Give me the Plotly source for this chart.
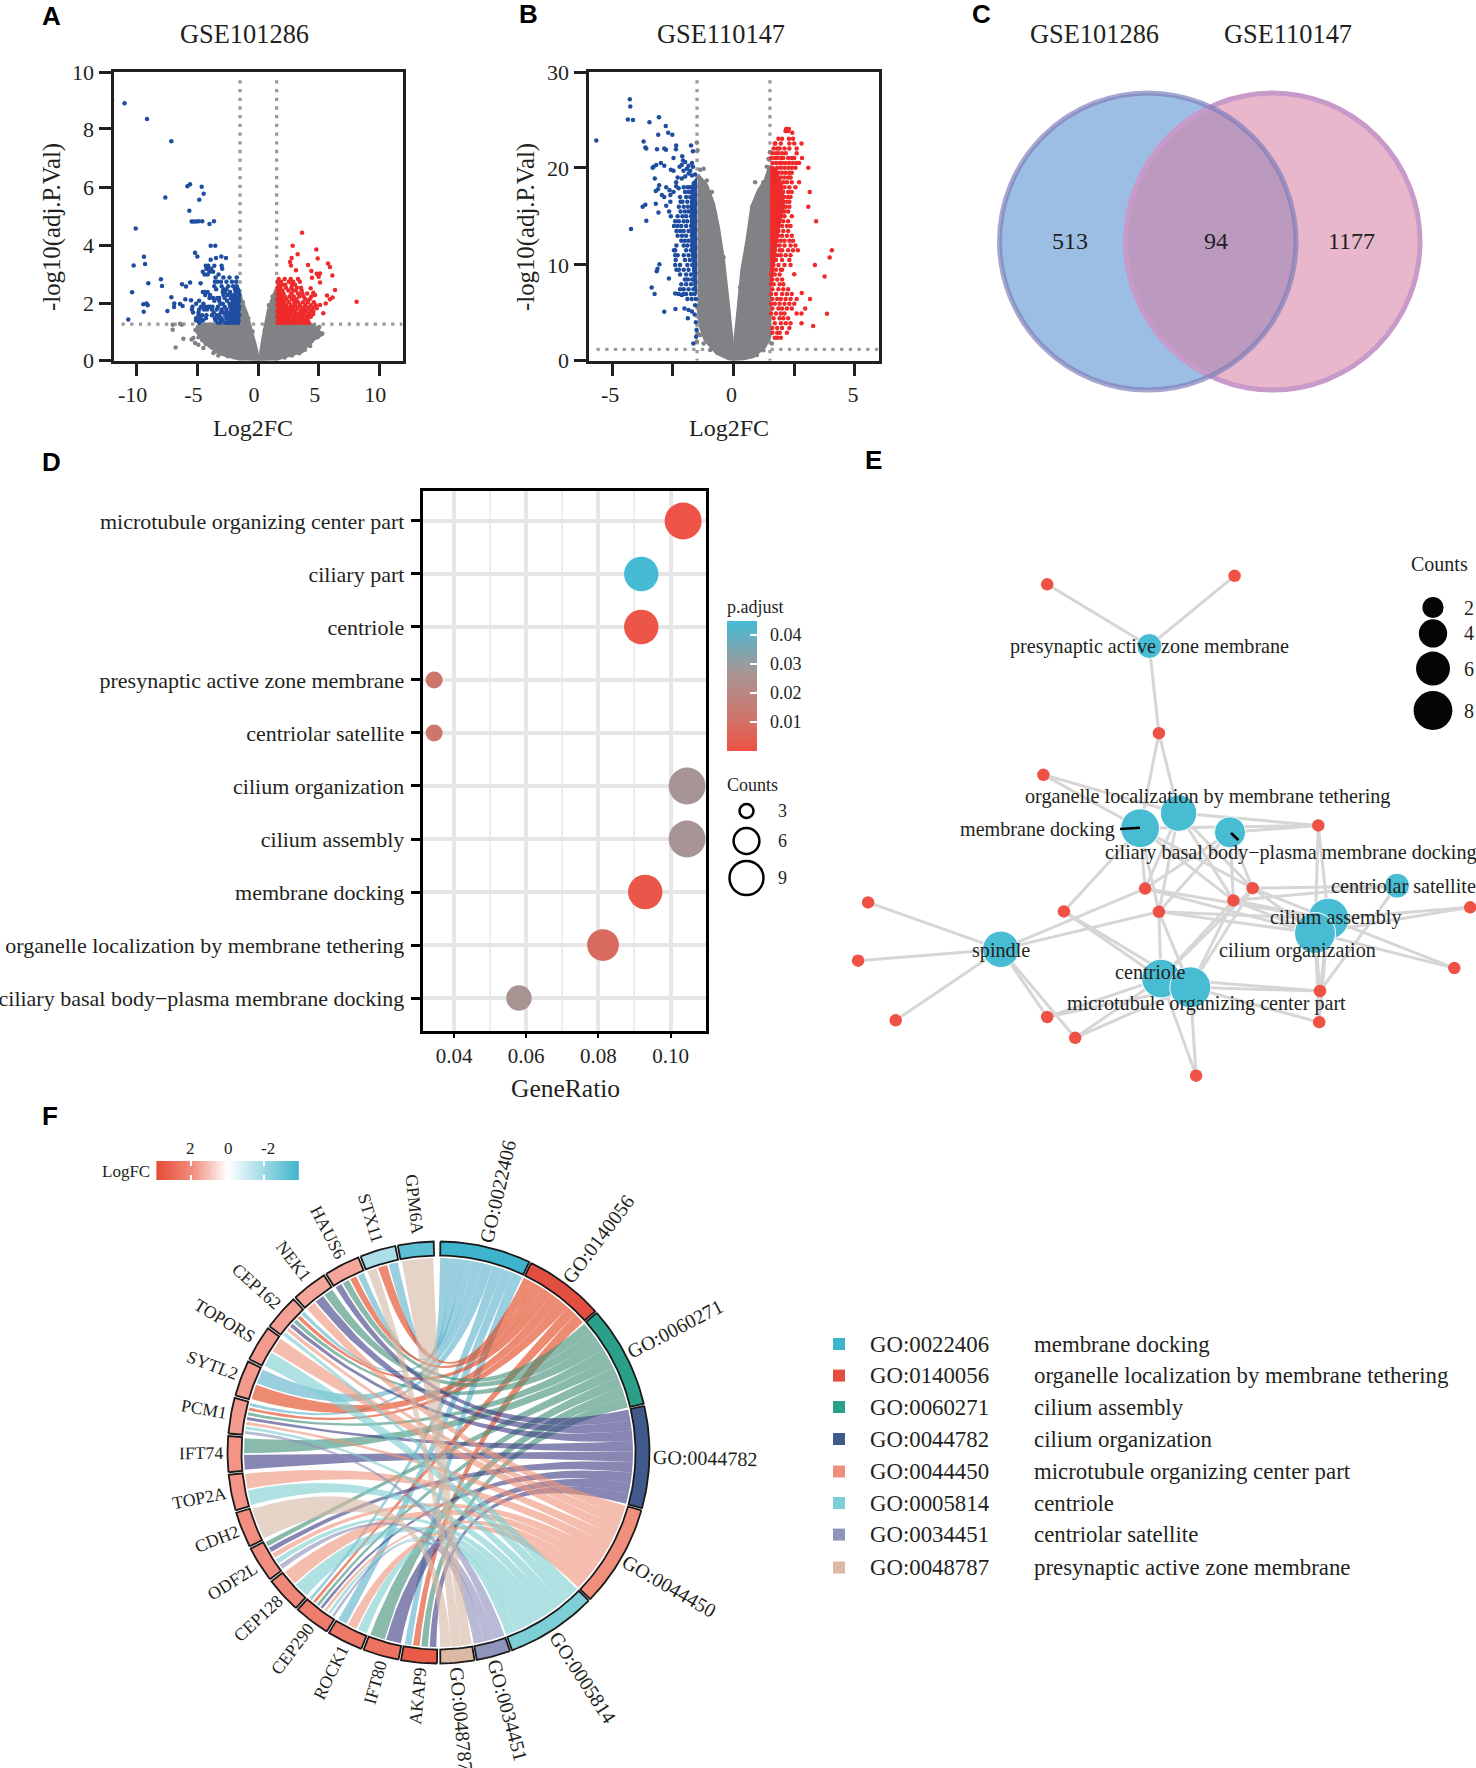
import math
import plotly.graph_objects as go

W, H = 1476, 1768
SERIF = "Liberation Serif"
SANS = "Liberation Sans"
INK = "#231F20"

# ---------- Panel A values ----------
a_blue_pts = [(-12.03,9.02),(-11.0,8.88),(-9.15,8.34),(-7.14,7.58),(-5.82,6.03),(-5.6,6.1),(-4.64,6.02),(-4.48,5.78),(-4.84,5.57),(-7.64,5.65),
 (-5.66,5.19),(-5.47,4.82),(-5.3,4.82),(-5.1,4.82),(-4.9,4.83),(-4.6,4.83),(-4.0,4.74),(-3.63,4.83),(-10.08,4.58),(-3.9,3.99),(-3.52,3.99),
 (-5.19,3.75),(-5.0,3.62),(-9.4,3.61),(-9.31,3.36),(-10.25,3.31),(-3.9,3.51),(-3.46,3.57),(-3.02,3.62),(-2.64,3.57),
 (-9.04,2.7),(-10.38,2.39),(-9.45,1.98),(-9.18,2.01),(-9.09,1.95),(-9.42,1.72),(-10.69,1.46),(-8.0,2.84),(-7.91,2.61),(-7.14,2.22),(-7.47,1.75),
 (-6.9,2.01),(-6.92,1.89),(-6.26,2.67),(-5.93,2.59),(-5.6,2.73),(-6.43,1.99),(-6.21,1.92),(-5.99,2.15),(-5.52,2.12),(-4.73,2.7)]
a_blue_rows = {3.3:[-4.3,-4.1,-3.6,-3.0],3.2:[-4.25,-4.15,-3.85,-2.95],3.1:[-4.55,-4.0,-3.7],3.0:[-4.4,-4.15,-3.25],
 2.9:[-3.5,-2.85,-2.35,-1.75],2.75:[-3.55,-3.35,-3.05,-2.6,-2.15,-1.8],2.6:[-3.6,-3.0,-2.45,-2.05,-1.75],2.5:[-3.45,-2.85,-2.6,-1.9,-1.65],
 2.4:[-4.55,-4.4,-4.15,-2.9,-2.7,-2.3,-1.85,-1.6],2.3:[-4.35,-3.95,-2.85,-2.5,-2.2,-1.9,-1.55],2.2:[-4.0,-3.7,-3.35,-3.2,-2.75,-2.25,-2.05,-1.8,-1.6],
 2.1:[-4.85,-3.6,-3.2,-2.55,-2.1,-1.9,-1.7,-1.55],2.0:[-5.1,-4.5,-3.1,-2.9,-2.35,-2.1,-1.85,-1.65],
 1.9:[-5.4,-4.7,-4.35,-4.1,-3.95,-3.75,-3.3,-2.75,-2.3,-2.05,-1.9,-1.7,-1.55],1.8:[-5.45,-4.85,-4.45,-4.2,-3.8,-3.4,-3.0,-2.6,-2.2,-2.0,-1.8,-1.6],
 1.7:[-5.35,-4.9,-3.65,-3.05,-2.85,-2.55,-2.3,-2.05,-1.85,-1.65],1.6:[-4.9,-4.6,-4.25,-3.8,-3.4,-3.2,-2.7,-2.4,-2.15,-1.95,-1.75,-1.55],
 1.5:[-5.1,-4.75,-4.3,-3.55,-3.2,-3.0,-2.6,-2.3,-2.1,-1.85,-1.7],1.42:[-5.1,-4.85,-4.55,-3.5,-3.05,-2.9,-2.45,-2.2,-2.0,-1.75,-1.6],
 1.35:[-4.85,-3.3,-3.1,-2.7,-2.5,-2.3,-2.05,-1.9,-1.65]}
a_red_pts = [(3.63,4.44),(2.86,3.99),(4.81,3.86),(3.27,3.7),(4.92,3.55),(2.77,3.57),(2.64,3.43),(2.72,3.31),(4.12,3.33),(5.77,3.38),(5.93,3.26),
 (4.4,3.12),(4.84,3.03),(5.11,3.04),(5.0,2.93),(6.13,2.97),(3.13,3.15),(4.45,2.89),(5.11,2.73),(6.35,2.47),(8.13,2.07),(5.69,2.28),(6.15,2.21),
 (5.93,2.15),(5.58,2.01),(5.38,1.67),(4.56,2.38),(4.34,2.53),(4.7,2.3),(5.11,1.96),(4.84,1.84),(4.56,1.73)]
a_red_rows = {2.85:[1.7,2.2,2.7,3.3],2.75:[1.65,1.9,2.55,2.9,3.45],2.65:[1.7,2.0,2.25,2.8,3.05],2.55:[1.6,1.85,2.3,2.75,3.2,3.55],
 2.45:[1.7,2.0,2.5,2.9,3.1,3.6],2.35:[1.6,1.8,2.1,2.75,3.3,3.65,4.05],2.25:[1.7,1.9,2.2,2.6,2.95,3.4,3.75,4.4],2.15:[1.6,1.8,2.0,2.35,2.8,3.15,3.9,4.25],
 2.05:[1.7,1.9,2.15,2.55,3.0,3.3,3.7,4.1,4.6],1.95:[1.6,1.8,2.0,2.3,2.7,3.05,3.45,3.9,4.35,4.75],1.85:[1.7,1.85,2.1,2.4,2.6,2.9,3.25,3.6,3.8,4.15,4.5],
 1.75:[1.6,1.8,2.0,2.25,2.55,2.8,3.1,3.5,3.75,4.0,4.35],1.65:[1.7,1.9,2.1,2.35,2.65,3.0,3.3,3.6,3.85,4.2,4.55],1.55:[1.6,1.8,2.0,2.2,2.45,2.75,3.05,3.4,3.7,4.05,4.35],
 1.45:[1.7,1.85,2.05,2.3,2.55,2.9,3.2,3.55,3.8,4.1],1.35:[1.6,1.75,1.95,2.15,2.4,2.65,2.85,3.1,3.35,3.65,3.95,4.2]}
a_grey_pts = [(-7.03,1.28),(-7.03,1.11),(-6.43,1.31),(-6.29,1.28),(-6.79,0.5),(-6.15,0.8),(-5.47,0.77),(-5.19,0.65),(-4.92,0.59),(-5.33,0.82),(-4.78,0.99),
 (5.11,0.99),(4.7,1.16),(4.42,0.71),(3.87,0.42),(4.84,0.99),(4.29,1.28),(3.6,0.37),(-3.68,0.31),(-4.5,0.48),(-3.27,0.22),(-5.0,1.15),(-4.9,0.85),(4.95,1.1),(4.1,0.6),
 (-4.3,0.62),(-4.6,0.75),(-3.9,0.55),(-3.5,0.36),(-3.0,0.3),(-2.5,0.2),(-2.0,0.16),(-4.95,1.2),(-5.15,1.1),(-4.7,0.9),
 (4.5,0.85),(4.9,0.85),(4.3,0.55),(3.8,0.5),(3.4,0.3),(2.8,0.22),(2.2,0.15),(5.3,0.98),(5.05,1.2),(4.6,1.25),
 (-1.25,2.05),(-0.8,1.5),(-0.45,1.05),(0.55,1.1),(0.9,1.95),(1.2,2.25)]
a_grey_outline_x = [-1.55,-1.35,-0.93,-0.6,-0.33,-0.11,0.03,-1.48,-2.86,-3.82,-4.5,-5.05,-4.78,-1.55,None,
 0.03,0.16,0.38,0.66,0.85,1.13,1.46,1.55,1.55,4.29,4.84,5.25,4.56,4.0,3.19,1.54,0.03]
a_grey_outline_y = [2.45,2.13,1.67,1.21,0.75,0.41,0.02,0.09,0.24,0.47,0.7,1.04,1.3,1.3,None,
 0.02,0.18,0.76,1.33,1.78,2.13,2.47,2.47,1.3,1.3,1.16,0.93,0.76,0.53,0.3,0.09,0.02]
a_blue_core_x = [-1.5,-2.2,-2.0,-1.5]
a_blue_core_y = [1.32,1.32,1.8,2.3]
a_red_core_x = [1.55,2.4,2.2,1.55]
a_red_core_y = [1.32,1.32,1.9,2.2]
a_cut_x, a_cut_y = [-1.48,1.54], 1.3
a_ticks = [-10,-5,0,5,10]
a_ticktext = ["-10","-5","0","5","10"]

# ---------- Panel B values ----------
b_blue_pts = [(-5.65,22.8),(-4.27,27.05),(-4.25,26.3),(-4.35,24.97),(-4.14,24.93),(-3.46,24.7),(-3.07,25.2),(-2.79,24.3),(-3.1,23.4),(-2.69,23.6),(-2.52,23.4),
 (-3.7,22.7),(-3.63,22.1),(-3.59,22.0),(-3.15,21.9),(-2.85,22.0),(-2.78,21.85),(-2.36,22.3),(-2.37,21.9),(-1.75,22.3),(-1.67,21.7),(-2.47,21.0),(-2.11,21.2),
 (-3.33,20.0),(-3.29,20.1),(-3.18,20.3),(-2.99,20.5),(-2.85,20.2),(-2.58,19.8),(-2.47,19.7),(-2.22,20.1),(-2.13,20.3),(-2.08,20.75),(-1.99,20.6),
 (-1.85,20.2),(-1.71,20.5),(-1.67,20.1),(-1.78,19.7),(-1.92,19.9),(-2.06,19.7),(-3.24,18.9),(-2.3,19.0),(-2.36,18.5),(-2.13,18.9),(-1.99,19.1),(-1.85,19.4),(-1.71,19.2),(-1.58,19.3),
 (-3.06,18.2),(-3.11,17.8),(-3.2,17.6),(-2.77,18.0),(-2.63,17.7),(-2.47,17.5),(-2.36,18.1),(-2.26,17.9),(-2.95,17.2),(-2.85,17.0),(-2.6,17.2),(-3.2,16.3),(-2.77,16.1),(-2.6,16.5),
 (-3.74,16.0),(-3.63,16.2),(-3.09,15.4),(-2.65,15.5),(-2.58,15.0),(-3.59,14.55),(-4.22,13.7),(-3.05,10.07),(-3.13,9.6),(-3.16,9.35),(-2.66,8.6),(-3.37,7.67),(-3.25,7.0),
 (-2.85,5.17),(-2.39,5.45),(-2.4,7.05),(-2.26,7.0),(-2.13,6.9),(-2.02,5.5),(-1.85,5.35),(-1.88,4.5),(-1.71,5.2),(-1.58,5.85),(-1.65,1.9),(-1.54,2.6),(-1.6,4.9),(-1.55,4.1),(-1.52,3.3)]
b_blue_rows = {18:[-2.05,-1.9,-1.8,-1.7,-1.6],17.5:[-2.0,-1.85,-1.75,-1.62],17:[-2.2,-1.95,-1.78,-1.65],16.5:[-2.18,-2.1,-1.9,-1.7,-1.58],16:[-2.25,-2.05,-1.88,-1.72],
 15.5:[-2.18,-2.0,-1.85,-1.68],15:[-2.3,-2.1,-1.95,-1.75],14.5:[-2.4,-2.25,-2.05,-1.9,-1.7],14:[-2.45,-2.3,-2.15,-1.95,-1.75],13.5:[-2.35,-2.2,-2.05,-1.85],
 13:[-2.3,-2.12,-1.95,-1.72],12.5:[-2.15,-2.0,-1.85,-1.7],12:[-2.35,-2.05,-1.9,-1.72],11.5:[-2.45,-2.4,-1.95,-1.75],11:[-2.4,-2.3,-2.05,-1.85,-1.68],
 10.5:[-2.38,-2.0,-1.8],10:[-2.4,-2.2,-1.9,-1.7],9.5:[-2.35,-2.25,-2.05,-1.85,-1.62],9:[-2.2,-1.95,-1.75],8.5:[-2.0,-1.88,-1.7,-1.6],8:[-2.15,-1.95,-1.75],
 7.5:[-2.2,-2.05,-1.85,-1.65],7:[-2.05,-1.95,-1.75,-1.6],6.5:[-1.9,-1.72,-1.55]}
b_red_pts = [(3.14,17.5),(3.08,16.0),(3.4,14.5),(4.05,11.5),(3.96,10.75),(3.35,10.0),(2.5,9.05),(3.75,8.8),(2.81,7.1),(3.15,6.5),(2.95,5.5),(3.85,4.97),(3.28,3.7),(3.08,20.0),(2.82,21.0),(2.8,22.5),(2.42,23.6)]
b_red_rows = {24:[2.17,2.22,2.28],23.8:[2.14,2.2,2.25],23:[1.85,2.0,2.28,2.45],22.5:[1.7,1.72,1.95,2.3,2.5],22:[1.65,1.8,1.9,2.1,2.3,2.6],21.5:[1.6,1.75,1.85,2.0,2.15,2.6],
 21:[1.55,1.7,1.8,1.95,2.05,2.25,2.4,2.5],20.5:[1.6,1.75,1.9,2.0,2.15,2.3,2.45,2.6,2.7],20:[1.6,1.8,1.95,2.1,2.25,2.4,2.55],19.5:[1.7,1.85,2.0,2.15,2.3,2.4],
 19:[1.8,1.95,2.1,2.25,2.35],18.5:[1.8,2.05,2.2,2.4,2.7],18:[1.9,2.1,2.3,2.55],17.5:[2.05,2.25,2.4],17:[2.1,2.25,2.35],16.5:[2.05,2.2,2.3],16:[2.0,2.15,2.3],
 15.5:[2.0,2.1,2.25],15:[1.95,2.1,2.4],14.5:[1.9,2.05,2.25],14:[1.85,2.0,2.2,2.35],13.5:[1.85,2.05,2.25],13:[1.85,2.0,2.2,2.4],12.5:[1.8,1.95,2.1,2.3,2.45],
 12:[1.75,1.9,2.1,2.35,2.55],11.5:[1.7,1.9,2.0,2.25,2.45,2.65],11:[1.65,1.8,1.95,2.15,2.35],10.5:[1.6,1.75,2.0,2.3],10:[1.65,1.85,2.1,2.35],9.5:[1.6,1.75,1.95,2.0],
 9:[1.55,1.7,1.9],8.5:[1.6,1.8,2.0],8:[1.55,1.65,1.9,2.05],7.5:[1.6,1.85,2.05,2.25],7:[1.55,1.75,2.0,2.2,2.4],6.5:[1.6,1.8,1.95,2.15,2.35,2.6],6:[1.55,1.7,1.9,2.1,2.3,2.5],
 5.5:[1.6,1.85,2.0,2.2,2.4],5:[1.55,1.75,1.95,2.1,2.6,2.8],4.5:[1.65,1.9,2.05,2.25],4:[1.7,1.95,2.15,2.35,2.8],3.5:[1.6,1.8,2.0,2.3],3:[1.6,1.8,1.9,2.2],2.5:[1.7,1.8,1.95]}
b_grey_pts = [(-1.23,19.9),(-1.37,19.8),(-1.51,22.6),(-1.48,21.8),(0.89,18.5),(1.23,18.5),(1.37,20.1),(1.44,20.9),(1.5,21.6),(-1.51,2.1),(-1.48,2.95),(-1.37,2.77),(-1.23,1.9),
 (1.23,1.2),(1.44,2.26),(1.58,1.9),(-0.96,15.6),(-0.8,15.6),(-0.62,12.9),(-0.41,10.8),(0.66,12.9),(0.41,9.45),(0.78,16.0),(0.96,17.0),(-1.37,18.7),(-1.1,18.7),(-0.89,17.5),(-0.3,6.0),(0.27,7.7),(-0.96,1.23),(0.96,0.72)]
b_grey_outline_x = [-1.48,-1.44,-1.1,-0.82,-0.62,-0.41,-0.21,-0.07,0.0,-0.69,-1.17,-1.37,-1.48,None,
 0.0,0.07,0.21,0.34,0.55,0.75,1.03,1.3,1.48,1.5,1.5,1.3,0.82,0.0]
b_grey_outline_y = [19.2,19.2,18.2,16.3,13.9,10.5,6.0,2.6,0.1,0.89,2.26,3.63,6.0,None,
 0.1,2.6,6.0,9.45,12.5,16.0,17.7,18.7,20.1,20.1,2.6,1.6,0.55,0.1]
b_blue_core_x = [-1.5,-1.7,-1.78,-1.75,-1.62,-1.5]
b_blue_core_y = [19.0,18.5,16.0,12.0,7.5,7.0]
b_red_core_x = [1.5,1.75,2.0,2.1,1.9,1.8,1.68,1.6,1.5]
b_red_core_y = [20.0,20.0,18.3,16.0,14.0,12.5,10.0,8.5,8.0]
b_cut_x, b_cut_y = [-1.5,1.5], 1.3

# ---------- Panel C values ----------
venn_sets = ["GSE101286","GSE110147"]
venn_counts = ["513","94","1177"]

# ---------- Panel D values ----------
d_terms = ["microtubule organizing center part","ciliary part","centriole","presynaptic active zone membrane","centriolar satellite",
 "cilium organization","cilium assembly","membrane docking","organelle localization by membrane tethering","ciliary basal body\u2212plasma membrane docking"]
d_ratio = [0.1035,0.0919,0.0919,0.0345,0.0345,0.1046,0.1046,0.0930,0.0813,0.058]
d_padj = [0.0008,0.0448,0.0012,0.012,0.012,0.027,0.027,0.002,0.008,0.026]
d_count = [9,8,8,3,3,9,9,8,7,5]
d_legend_counts = [3,6,9]

# ---------- Panel E values ----------
gene_nodes = {"a":(1047.2,584.3),"b":(1234.6,575.8),"c":(1158.9,733.2),"d":(1043.4,774.8),"e":(1318.3,825.4),"f":(1145.1,888.6),"g":(1252.6,888.2),
 "h":(1233.4,900.4),"i":(1158.9,911.8),"j":(1063.9,911.4),"k":(868.1,902.4),"l":(858.1,960.7),"m":(895.7,1020.3),"n":(1047.2,1017.0),"o":(1075.2,1037.8),
 "p":(1196.1,1075.7),"q":(1320.0,991.0),"r":(1319.2,1022.2),"s":(1454.3,968.1),"t":(1470.2,907.3)}
term_nodes = {"presynaptic active zone membrane":(1149.3,646.0,"abc"),
 "organelle localization by membrane tethering":(1178.6,813.1,"cdefigh"),
 "membrane docking":(1140.1,828.2,"cdefighj"),
 "ciliary basal body\u2212plasma membrane docking":(1230.0,832.3,"efigh"),
 "centriolar satellite":(1397.0,885.7,"ghq"),
 "cilium assembly":(1328.4,918.7,"efghiqrst"),
 "cilium organization":(1315.0,933.0,"efghiqrst"),
 "spindle":(1000.8,949.3,"klmnofi"),
 "centriole":(1161.0,978.6,"ingoqphj"),
 "microtubule organizing center part":(1190.3,987.3,"ringoqphj")}
term_labels = {"presynaptic active zone membrane":(1149,646),"organelle localization by membrane tethering":(1207,797),"membrane docking":(1037,829.5),
 "ciliary basal body\u2212plasma membrane docking":(1290.7,852),"centriolar satellite":(1403.7,885.5),"cilium assembly":(1335.5,917.5),"cilium organization":(1297.4,950.5),
 "spindle":(1000.8,950.5),"centriole":(1150.5,971.5),"microtubule organizing center part":(1206.6,1003.5)}
leader_x = [1120,1140,None,1231,1238.4]
leader_y = [829,827.7,None,833,840]
e_legend_counts = [2,4,6,8]

# ---------- Panel F values ----------
go_ids = ["GO:0022406","GO:0140056","GO:0060271","GO:0044782","GO:0044450","GO:0005814","GO:0034451","GO:0048787"]
go_names = ["membrane docking","organelle localization by membrane tethering","cilium assembly","cilium organization",
 "microtubule organizing center part","centriole","centriolar satellite","presynaptic active zone membrane"]
go_colors = ["#3EB3CC","#E24E3F","#29A087","#415A8C","#F08F7B","#7CCFD6","#8F94BB","#DCB9A5"]
go_ribbons = ["#5CB2CB","#E0421B","#428F79","#3F3E85","#ED947A","#7ECDD0","#8B8EBB","#D6B8A5"]
genes = ["AKAP9","IFT80","ROCK1","CEP290","CEP128","ODF2L","CDH2","TOP2A","IFT74","PCM1","SYTL2","TOPORS","CEP162","NEK1","HAUS6","STX11","GPM6A"]
gene_logfc = [3.4,2.7,2.5,2.4,2.1,1.9,1.9,1.8,1.8,1.7,1.7,1.7,1.6,1.5,1.5,-1.7,-3.3]
gene_go = [[3,2,1,0],[3,2],[5,4,0],[6,5,4,3,2,1,0],[5,4],[6,5,4,3,2],[7],[5,4],[3,2],[6,5,4,3,2,1,0],[1,0],[5,4],[5,4,3,2,1,0],[4,3,2],[3,2,1,0],[7,1,0],[7]]
logfc_ticks = [2,0,-2]
logfc_stops = [(-3.88,(63,180,204)),(0,(255,255,255)),(1.94,(242,140,126)),(3.88,(230,75,53))]

# ---------- helpers ----------
def dx(a,b): return [a/W,b/W]
def dy(a,b): return [1-b/H,1-a/H]
def expand(pts, rows):
    xs=[p[0] for p in pts]; ys=[p[1] for p in pts]
    for y,row in rows.items():
        xs+=row; ys+=[y]*len(row)
    return xs,ys
def size_of(c, base2, slope): return math.sqrt(base2+(c-3)*slope)
def lfc_color(v):
    s=logfc_stops
    v=max(s[0][0],min(s[-1][0],v))
    for (a,ca),(b,cb) in zip(s,s[1:]):
        if a<=v<=b:
            t=(v-a)/(b-a)
            return "rgb(%d,%d,%d)"%tuple(round(ca[i]+(cb[i]-ca[i])*t) for i in range(3))
def rgba(h,al):
    return "rgba(%d,%d,%d,%.2f)"%(int(h[1:3],16),int(h[3:5],16),int(h[5:7],16),al)
CW={":":.278,"G":.722,"O":.722,"P":.556,"M":.889,"A":.722,"C":.667,"K":.722,"I":.333,"F":.556,"T":.611,"R":.667,"E":.611,"H":.722,"D":.722,"L":.611,"N":.722,"S":.556,"U":.722,"X":.722,"Y":.722,"B":.667}
def tw(s,size): return sum(CW.get(c,.5) for c in s)*size

annots=[]
def txt(x,y,t,size=21,xa="center",ang=0,fam=SERIF,color=INK):
    annots.append(dict(x=x/W,y=1-y/H,xref="paper",yref="paper",text=t,showarrow=False,xanchor=xa,yanchor="middle",
                       textangle=ang,font=dict(family=fam,size=size,color=color)))

fig=go.Figure()
hid=dict(visible=False,showgrid=False,zeroline=False)
def sc(xs,ys,ax,**k):
    fig.add_trace(go.Scatter(x=xs,y=ys,xaxis="x"+ax,yaxis="y"+ax,hoverinfo="skip",showlegend=False,**k))

GREY,BLUE,RED="#808285","#1F4EA1","#EE2A2B"
def volcano(ax,cut_x,cut_y,xr,top,ox,oy,gp,bp,br,rp,rr,bcx,bcy,rcx,rcy,ms):
    dash=dict(color="#9B9B9B",width=3.3,dash="3.3px,5.4px")
    sc([xr[0]*0.945,xr[1]],[cut_y,cut_y],ax,mode="lines",line=dash)
    for c in cut_x:
        sc([c,c],[0,top*0.975],ax,mode="lines",line=dash)
    sc(ox,oy,ax,mode="lines",fill="toself",fillcolor=GREY,line=dict(color=GREY,width=3))
    sc([p[0] for p in gp],[p[1] for p in gp],ax,mode="markers",marker=dict(color=GREY,size=ms))
    sc(bcx,bcy,ax,mode="lines",fill="toself",fillcolor=BLUE,line=dict(color=BLUE,width=1))
    sc(rcx,rcy,ax,mode="lines",fill="toself",fillcolor=RED,line=dict(color=RED,width=1))
    x,y=expand(bp,br); sc(x,y,ax,mode="markers",marker=dict(color=BLUE,size=ms))
    x,y=expand(rp,rr); sc(x,y,ax,mode="markers",marker=dict(color=RED,size=ms))

volcano("",a_cut_x,a_cut_y,[-11.91,11.91],10,a_grey_outline_x,a_grey_outline_y,a_grey_pts,a_blue_pts,a_blue_rows,a_red_pts,a_red_rows,a_blue_core_x,a_blue_core_y,a_red_core_x,a_red_core_y,4.5)
volcano("2",b_cut_x,b_cut_y,[-5.97,5.97],30,b_grey_outline_x,b_grey_outline_y,b_grey_pts,b_blue_pts,b_blue_rows,b_red_pts,b_red_rows,b_blue_core_x,b_blue_core_y,b_red_core_x,b_red_core_y,4.5)

# Panel D
d_scale=[[0,"#EF5144"],[0.25,"#CF746A"],[0.6,"#A89595"],[1,"#45BCD4"]]
fig.add_trace(go.Scatter(x=d_ratio,y=d_terms,xaxis="x4",yaxis="y4",mode="markers",hoverinfo="skip",showlegend=False,
    marker=dict(size=[size_of(c,289,180) for c in d_count],opacity=1,color=d_padj,cmin=0,cmax=0.0448,colorscale=d_scale,line=dict(width=0),
        colorbar=dict(x=727/W,xanchor="left",y=1-686/H,yanchor="middle",thickness=30,thicknessmode="pixels",len=130,lenmode="pixels",xpad=0,ypad=0,
            outlinewidth=0,tickmode="array",tickvals=[0.01,0.02,0.03,0.04],ticks="inside",ticklen=7,tickwidth=1.5,tickcolor="white",showticklabels=False))))
txt(725,607,"p.adjust",18,"left")
for v,y in zip(["0.04","0.03","0.02","0.01"],[635,664,693,722]): txt(768,y,v,18,"left")
txt(725,785,"Counts",18,"left")
for c,y in zip(d_legend_counts,[811,841,878]):
    sc([746.5],[y],"3",mode="markers",marker=dict(size=size_of(c,289,180)-3,opacity=1,color="white",line=dict(color="black",width=2.5)))
    txt(782,y,str(c),18)

# Panel C (drawn on page axes)
venn_shapes=[dict(type="circle",xref="x3",yref="y3",x0=999.5,x1=1296,y0=93,y1=390,fillcolor="#9CBDE4",line=dict(width=0),layer="below"),
 dict(type="circle",xref="x3",yref="y3",x0=1125.5,x1=1420,y0=93,y1=390,fillcolor="rgba(214,126,162,0.556)",line=dict(color="#C79AC9",width=5),layer="below"),
 dict(type="circle",xref="x3",yref="y3",x0=999.5,x1=1296,y0=93,y1=390,fillcolor="rgba(0,0,0,0)",line=dict(color="rgba(125,125,185,0.68)",width=5),layer="below")]
for s,x in zip(venn_sets,[1094,1288]): txt(x,34,s,26.4)
for s,x in zip(venn_counts,[1069.5,1216,1351]): txt(x,241,s,24)

# Panel E
ex,ey=[],[]
for t,(x,y,gs) in term_nodes.items():
    for g in gs:
        ex+=[x,gene_nodes[g][0],None]; ey+=[y,gene_nodes[g][1],None]
sc(ex,ey,"3",mode="lines",line=dict(color="#D8D5D6",width=3))
sc([p[0] for p in gene_nodes.values()],[p[1] for p in gene_nodes.values()],"3",mode="markers",marker=dict(color="#EF5144",size=12.5))
t_size={"presynaptic active zone membrane":3,"organelle localization by membrane tethering":7,"membrane docking":8,"ciliary basal body\u2212plasma membrane docking":5,
 "centriolar satellite":3,"cilium assembly":9,"cilium organization":9,"spindle":7,"centriole":8,"microtubule organizing center part":9}
sc([v[0] for v in term_nodes.values()],[v[1] for v in term_nodes.values()],"3",mode="markers",
   marker=dict(color="#47BCD3",opacity=1,size=[size_of(t_size[k],625,176) for k in term_nodes]))
sc(leader_x,leader_y,"3",mode="lines",line=dict(color="black",width=2.6))
for k,(x,y) in term_labels.items(): txt(x,y,k,20.15)
txt(1439,564,"Counts",20)
for c,y in zip(e_legend_counts,[607.5,633.4,668.6,710.5]):
    sc([1433],[y],"3",mode="markers",marker=dict(size=size_of(c,625,176),color="#050505"))
    txt(1469,y,str(c),20)

# Panel F chord
R_OUT,R_IN,R_RIB=211,197,194.5
def pt(r,a):
    th=math.radians(a); return r*math.sin(th),r*math.cos(th)
n_links=[sum(g in m for m in gene_go) for g in range(8)]
GO_GAP=0.6
unit=(179-GO_GAP*7)/sum(n_links)
go_start=[];cur=0.5
for n in n_links:
    go_start.append(cur); cur+=n*unit+GO_GAP
G_STEP=(359.4-180.4)/len(genes); G_W=G_STEP-0.7
gene_start=[180.4+i*G_STEP for i in range(len(genes))]

def ring(a0,a1,col):
    st=max(2,int((a1-a0)/1.5)+1)
    o=[pt(R_OUT,a0+(a1-a0)*i/st) for i in range(st+1)]
    n=[pt(R_IN,a1-(a1-a0)*i/st) for i in range(st+1)]
    p=o+n+[o[0]]
    sc([q[0] for q in p],[q[1] for q in p],"5",mode="lines",fill="toself",fillcolor=col,line=dict(color="#1A1A1A",width=1.8))

# per-gene slots
gene_slot={}
for i,m in enumerate(gene_go):
    w=G_W/len(m)
    for j,g in enumerate(m):
        gene_slot[(i,g)]=(gene_start[i]+j*w+0.25,gene_start[i]+(j+1)*w-0.25)
def bez(p0,p1,n=22):
    return [((1-t)**2*p0[0]+t*t*p1[0],(1-t)**2*p0[1]+t*t*p1[1]) for t in [k/n for k in range(n+1)]]
def arc(a0,a1,n=6):
    return [pt(R_RIB,a0+(a1-a0)*k/n) for k in range(n+1)]
for g in range(8):
    linked=[i for i,m in enumerate(gene_go) if g in m][::-1]
    for k,i in enumerate(linked):
        b0=go_start[g]+k*unit; b1=b0+unit
        a0,a1=gene_slot[(i,g)]
        p=arc(b0,b1)+bez(pt(R_RIB,b1),pt(R_RIB,a0))+arc(a0,a1)+bez(pt(R_RIB,a1),pt(R_RIB,b0))
        sc([q[0] for q in p],[q[1] for q in p],"5",mode="lines",fill="toself",fillcolor=rgba(go_ribbons[g],0.62),line=dict(width=0))
CX,CY=438.5,1452.5
def radial(name,a,size,ox=0,oy=0,gap=4):
    w=tw(name,size)
    x,y=pt(R_OUT+gap+w/2,a)
    ang=a-90 if a<180 else a-270
    txt(CX+x+ox,CY-y+oy,name,size,ang=ang)
for g in range(8):
    a0=go_start[g]; a1=a0+n_links[g]*unit
    ring(a0,a1,go_colors[g]); radial(go_ids[g],(a0+a1)/2,20,-1,0)
for i,name in enumerate(genes):
    a0=gene_start[i]; a1=a0+G_W
    ring(a0,a1,lfc_color(gene_logfc[i])); radial(name,(a0+a1)/2,17.7,2.5,-1.5,7)

# LogFC colour bar
bar_x=[3.88-7.76*i/119 for i in range(120)]
fig.add_trace(go.Heatmap(x=bar_x,y=[0,1],z=[bar_x,bar_x],xaxis="x6",yaxis="y6",showscale=False,hoverinfo="skip",zmin=-3.88,zmax=3.88,
    colorscale=[[0,"#3FB4CC"],[0.5,"#FFFFFF"],[0.75,"#F28C7E"],[1,"#E64B35"]]))
txt(126,1171.5,"LogFC",17)
for v,x in zip(logfc_ticks,[190.9,228.5,267.5]): txt(x,1148,str(v),17)

# Panel F legend
for i,(gid,nm,c) in enumerate(zip(go_ids,go_names,go_colors)):
    y=[1344,1375.6,1407,1439,1471.5,1503,1534.6,1567.5][i]
    sc([839],[y],"3",mode="markers",marker=dict(symbol="square",size=12,color=c))
    txt(867.5,y,gid,22.8,"left"); txt(1032,y,nm,22.85,"left")

# Titles, axis labels, panel letters
txt(245,34,"GSE101286",26.4); txt(721,34,"GSE110147",26.4)
txt(253,428,"Log2FC",24); txt(729,428,"Log2FC",24)
txt(52,227,"-log10(adj.P.Val)",24.8,ang=-90); txt(526,227,"-log10(adj.P.Val)",24.8,ang=-90)
txt(565,1088,"GeneRatio",25.5)
for l,x,y in [("A",52,16),("B",528,14),("C",981,14),("D",52,462),("E",873,460),("F",50,1116)]:
    txt(x,y,"<b>%s</b>"%l,26,fam=SANS,color="black")

frame=dict(showline=True,mirror=True,linecolor=INK,linewidth=3,ticks="outside",ticklen=12,tickwidth=3,tickcolor=INK,showgrid=False,zeroline=False,
           tickfont=dict(family=SERIF,size=22,color=INK),ticklabelstandoff=0)
fig.update_layout(width=W,height=H,margin=dict(l=0,r=0,t=0,b=0,pad=0,autoexpand=False),paper_bgcolor="white",plot_bgcolor="rgba(0,0,0,0)",showlegend=False,
  xaxis=dict(frame,domain=dx(113.5,402.5),range=[-11.91,11.91],tickvals=a_ticks,ticktext=a_ticktext,ticklabelshift=-4,anchor="y"),
  yaxis=dict(frame,domain=dy(72.2,360.5),range=[0.05,9.95],tickvals=[0.05,2,4,6,8,9.95],ticktext=["0","2","4","6","8","10"],anchor="x"),
  xaxis2=dict(frame,domain=dx(588.5,878.5),range=[-5.97,5.97],tickvals=[-5,-2.5,0,2.5,5],ticktext=["-5","","0","","5"],ticklabelshift=-2,anchor="y2"),
  yaxis2=dict(frame,domain=dy(72.2,360.5),range=[0.155,29.845],tickvals=[0.155,10,20,29.845],ticktext=["0","10","20","30"],anchor="x2"),
  xaxis3=dict(hid,domain=[0,1],range=[0,W],anchor="y3"),
  yaxis3=dict(hid,domain=[0,1],range=[H,0],anchor="x3"),
  xaxis4=dict(domain=dx(422.5,705.5),range=[0.03127,0.1097],tickvals=[0.04,0.06,0.08,0.10],ticktext=["0.04","0.06","0.08","0.10"],showline=True,mirror=True,linecolor="black",linewidth=2.5,
      ticks="outside",ticklen=5,tickwidth=2,tickcolor="black",showgrid=True,gridcolor="#E6E6E6",gridwidth=4,zeroline=False,
      minor=dict(tickvals=[0.05,0.07,0.09],showgrid=True,gridcolor="#EDEDED",gridwidth=2,ticks=""),
      tickfont=dict(family=SERIF,size=21,color=INK),ticklabelstandoff=0,anchor="y4"),
  yaxis4=dict(domain=dy(490.5,1030.5),type="category",categoryorder="array",categoryarray=d_terms[::-1],range=[-0.613,9.575],showline=True,mirror=True,linecolor="black",linewidth=2.5,
      ticks="outside",ticklen=9,tickwidth=2.5,tickcolor="black",showgrid=True,gridcolor="#E6E6E6",gridwidth=4,zeroline=False,
      tickfont=dict(family=SERIF,size=22,color=INK),ticklabelstandoff=2,anchor="x4"),
  xaxis5=dict(hid,domain=dx(CX-230,CX+230),range=[-230,230],anchor="y5"),
  yaxis5=dict(hid,domain=dy(CY-230,CY+230),range=[-230,230],anchor="x5"),
  xaxis6=dict(domain=dx(156.4,298.8),range=[3.88,-3.88],tickvals=logfc_ticks,ticks="inside",ticklen=5,tickwidth=1.5,tickcolor="white",mirror="ticks",
      showticklabels=False,showgrid=False,zeroline=False,showline=False,anchor="y6"),
  yaxis6=dict(hid,domain=dy(1161,1180),range=[0,1],anchor="x6"),
  shapes=venn_shapes,annotations=annots)
fig.write_html("out.html",config={"displayModeBar":False},post_script="document.body.style.margin='0';document.documentElement.style.overflow='hidden';")
